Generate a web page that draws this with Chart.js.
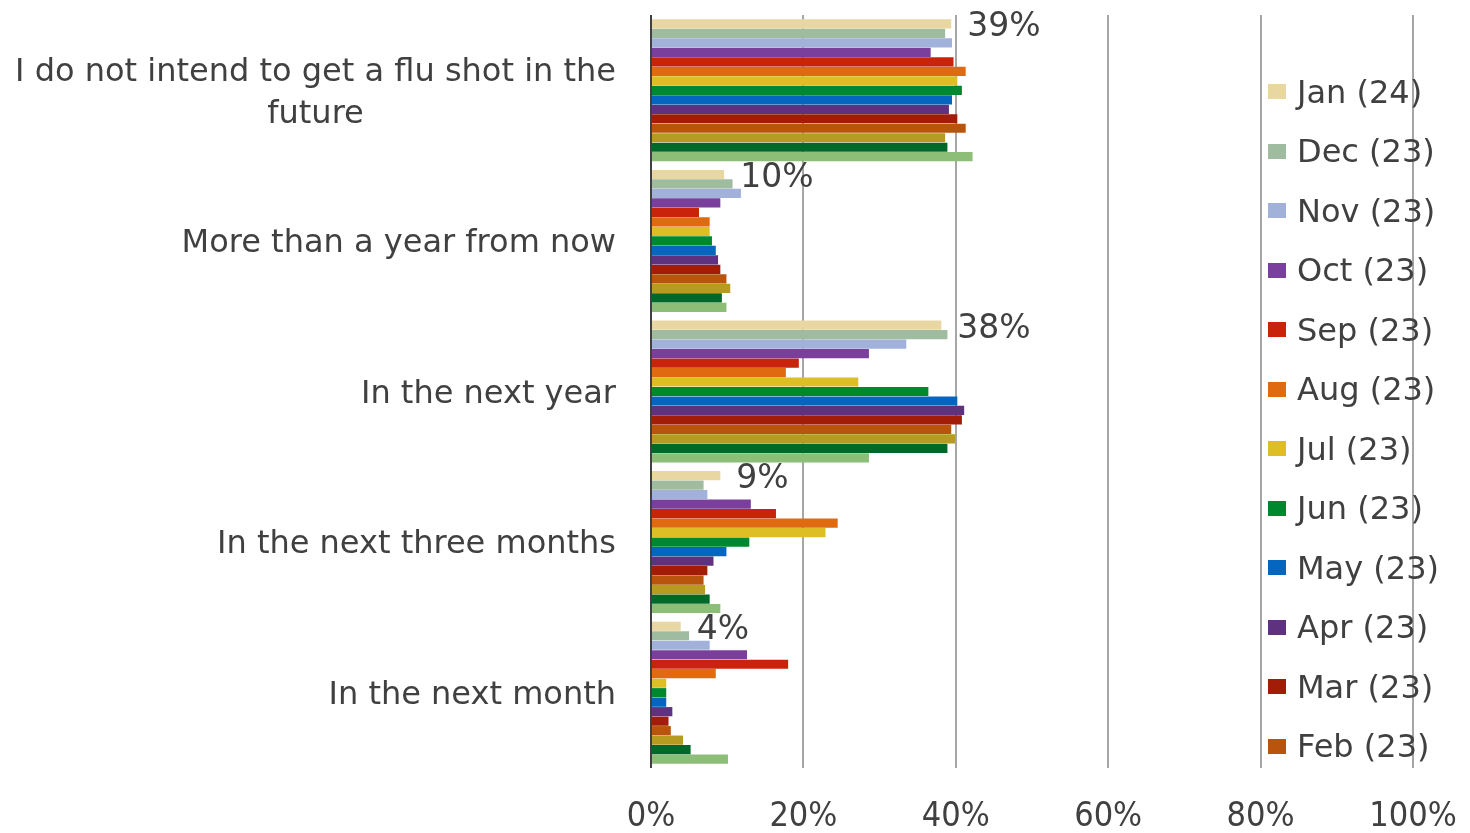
<!DOCTYPE html>
<html>
<head>
<meta charset="utf-8">
<title>Flu shot intention</title>
<script src="https://cdn.jsdelivr.net/npm/chart.js@4.4.1/dist/chart.umd.min.js"></script>
<style>
    html, body { margin: 0; padding: 0; background: #fff; }
    #wrap { position: relative; width: 1470px; height: 833px; }
    #legend {
        position: absolute; left: 1268px; top: 62px;
        font-family: "DejaVu Sans", Verdana, sans-serif; font-size: 32px; color: #404040;
    }
    .item { height: 59.5px; display: flex; align-items: center; white-space: nowrap; }
    .box { width: 18px; height: 15px; margin-right: 11px; flex: none; }
</style>
</head>
<body>
<div id="wrap">
    <canvas id="chart" width="1470" height="833"></canvas>
    <div id="legend"></div>
</div>
<script>
// Categories (top to bottom)
const categories = [
    ["I do not intend to get a flu shot in the", "future"],
    "More than a year from now",
    "In the next year",
    "In the next three months",
    "In the next month"
];

// Survey waves, newest first
const waves = [
    "Jan (24)", "Dec (23)", "Nov (23)", "Oct (23)", "Sep (23)", "Aug (23)",
    "Jul (23)", "Jun (23)", "May (23)", "Apr (23)", "Mar (23)", "Feb (23)",
    "Jan (23)", "Dec (22)", "Nov (22)"
];
const waveColors = [
    "#E9D7A1", "#9FBBA0", "#A1B1DA", "#7A3E9B", "#C9230B", "#E06A10",
    "#DDBE25", "#00882F", "#0566C0", "#5F327F", "#A31C07", "#B8540C",
    "#B69B20", "#00692A", "#8CBE78"
];

// Percent per wave, one value per category
const jan24 = [39.4, 9.6, 38.1, 9.1, 3.9];
const dec23 = [38.6, 10.7, 38.9, 6.9, 5.0];
const nov23 = [39.5, 11.8, 33.5, 7.4, 7.7];
const oct23 = [36.7, 9.1, 28.6, 13.1, 12.6];
const sep23 = [39.7, 6.3, 19.4, 16.4, 18.0];
const aug23 = [41.3, 7.7, 17.7, 24.5, 8.5];
const jul23 = [40.2, 7.7, 27.2, 22.9, 2.0];
const jun23 = [40.8, 8.0, 36.4, 12.9, 2.0];
const may23 = [39.5, 8.5, 40.2, 9.9, 2.0];
const apr23 = [39.1, 8.8, 41.1, 8.2, 2.8];
const mar23 = [40.2, 9.1, 40.8, 7.4, 2.3];
const feb23 = [41.3, 9.9, 39.4, 6.9, 2.6];
const jan23 = [38.6, 10.4, 39.9, 7.1, 4.2];
const dec22 = [38.9, 9.3, 38.9, 7.7, 5.2];
const nov22 = [42.2, 9.9, 28.6, 9.1, 10.1];
const seriesValues = [jan24, dec23, nov23, oct23, sep23, aug23, jul23, jun23,
    may23, apr23, mar23, feb23, jan23, dec22, nov22];

const xTicks = [0, 20, 40, 60, 80, 100];
const legendShown = 12; // the original legend only fits twelve entries

const textColor = "#404040";
const font = '"DejaVu Sans", Verdana, sans-serif';

// Category labels drawn left of the plot, multi-line labels centred on their widest line
const categoryLabels = {
    id: "categoryLabels",
    afterDraw(chart) {
        const ctx = chart.ctx;
        const yScale = chart.scales.y;
        const right = chart.chartArea.left - 35;
        ctx.save();
        ctx.font = "32px " + font;
        ctx.fillStyle = textColor;
        ctx.textAlign = "center";
        ctx.textBaseline = "middle";
        categories.forEach((label, i) => {
            const lines = Array.isArray(label) ? label : [label];
            const widest = Math.max(...lines.map(l => ctx.measureText(l).width));
            const cx = right - widest / 2;
            const lineH = 42;
            const y0 = yScale.getPixelForValue(i) + 3 - (lines.length - 1) * lineH / 2;
            lines.forEach((l, j) => ctx.fillText(l, cx, y0 + j * lineH));
        });
        ctx.restore();
    }
};

// Value labels for the newest wave
const valueLabels = {
    id: "valueLabels",
    afterDatasetsDraw(chart) {
        const ctx = chart.ctx;
        const meta = chart.getDatasetMeta(0);
        ctx.save();
        ctx.font = "33px " + font;
        ctx.fillStyle = textColor;
        ctx.textAlign = "left";
        ctx.textBaseline = "middle";
        meta.data.forEach((bar, i) => {
            ctx.fillText(Math.round(jan24[i]) + "%", bar.x + 16, bar.y + 4);
        });
        ctx.restore();
    }
};

document.addEventListener("DOMContentLoaded", () => {
    const ctx = document.getElementById("chart").getContext("2d");
    new Chart(ctx, {
        type: "bar",
        data: {
            labels: categories.map(c => Array.isArray(c) ? c.join(" ") : c),
            datasets: waves.map((w, i) => ({
                label: w,
                data: seriesValues[i],
                backgroundColor: waveColors[i],
                borderWidth: 0,
                barPercentage: 0.97,
                categoryPercentage: 0.945,
            })),
        },
        options: {
            indexAxis: "y",
            responsive: false,
            animation: false,
            layout: { padding: { left: 651, right: 57, top: 15, bottom: 0 } },
            plugins: {
                legend: { display: false },
                tooltip: { enabled: false },
            },
            scales: {
                y: { display: false },
                x: {
                    min: 0,
                    max: 100,
                    afterBuildTicks: scale => {
                        scale.ticks = xTicks.map(v => ({ value: v }));
                    },
                    afterFit: scale => {
                        // labels sit well below the plot; keep the plot edges fixed
                        scale.paddingLeft = 0;
                        scale.paddingRight = 0;
                        scale.height = 65;
                    },
                    ticks: {
                        callback: v => v + "%",
                        color: textColor,
                        padding: 29,
                        maxRotation: 0,
                        font: { family: '"DejaVu Sans Condensed", "DejaVu Sans", sans-serif', size: 34 },
                    },
                    grid: {
                        drawTicks: false,
                        color: c => c.tick && c.tick.value === 0 ? "#404040" : "#A6A6A6",
                        lineWidth: 2,
                    },
                    border: { display: false },
                },
            },
        },
        plugins: [categoryLabels, valueLabels],
    });

    // HTML legend, built from the same series arrays
    const legend = document.getElementById("legend");
    waves.slice(0, legendShown).forEach((w, i) => {
        const item = document.createElement("div");
        item.className = "item";
        const box = document.createElement("span");
        box.className = "box";
        box.style.background = waveColors[i];
        const txt = document.createElement("span");
        txt.textContent = w;
        item.appendChild(box);
        item.appendChild(txt);
        legend.appendChild(item);
    });
});
</script>
</body>
</html>
